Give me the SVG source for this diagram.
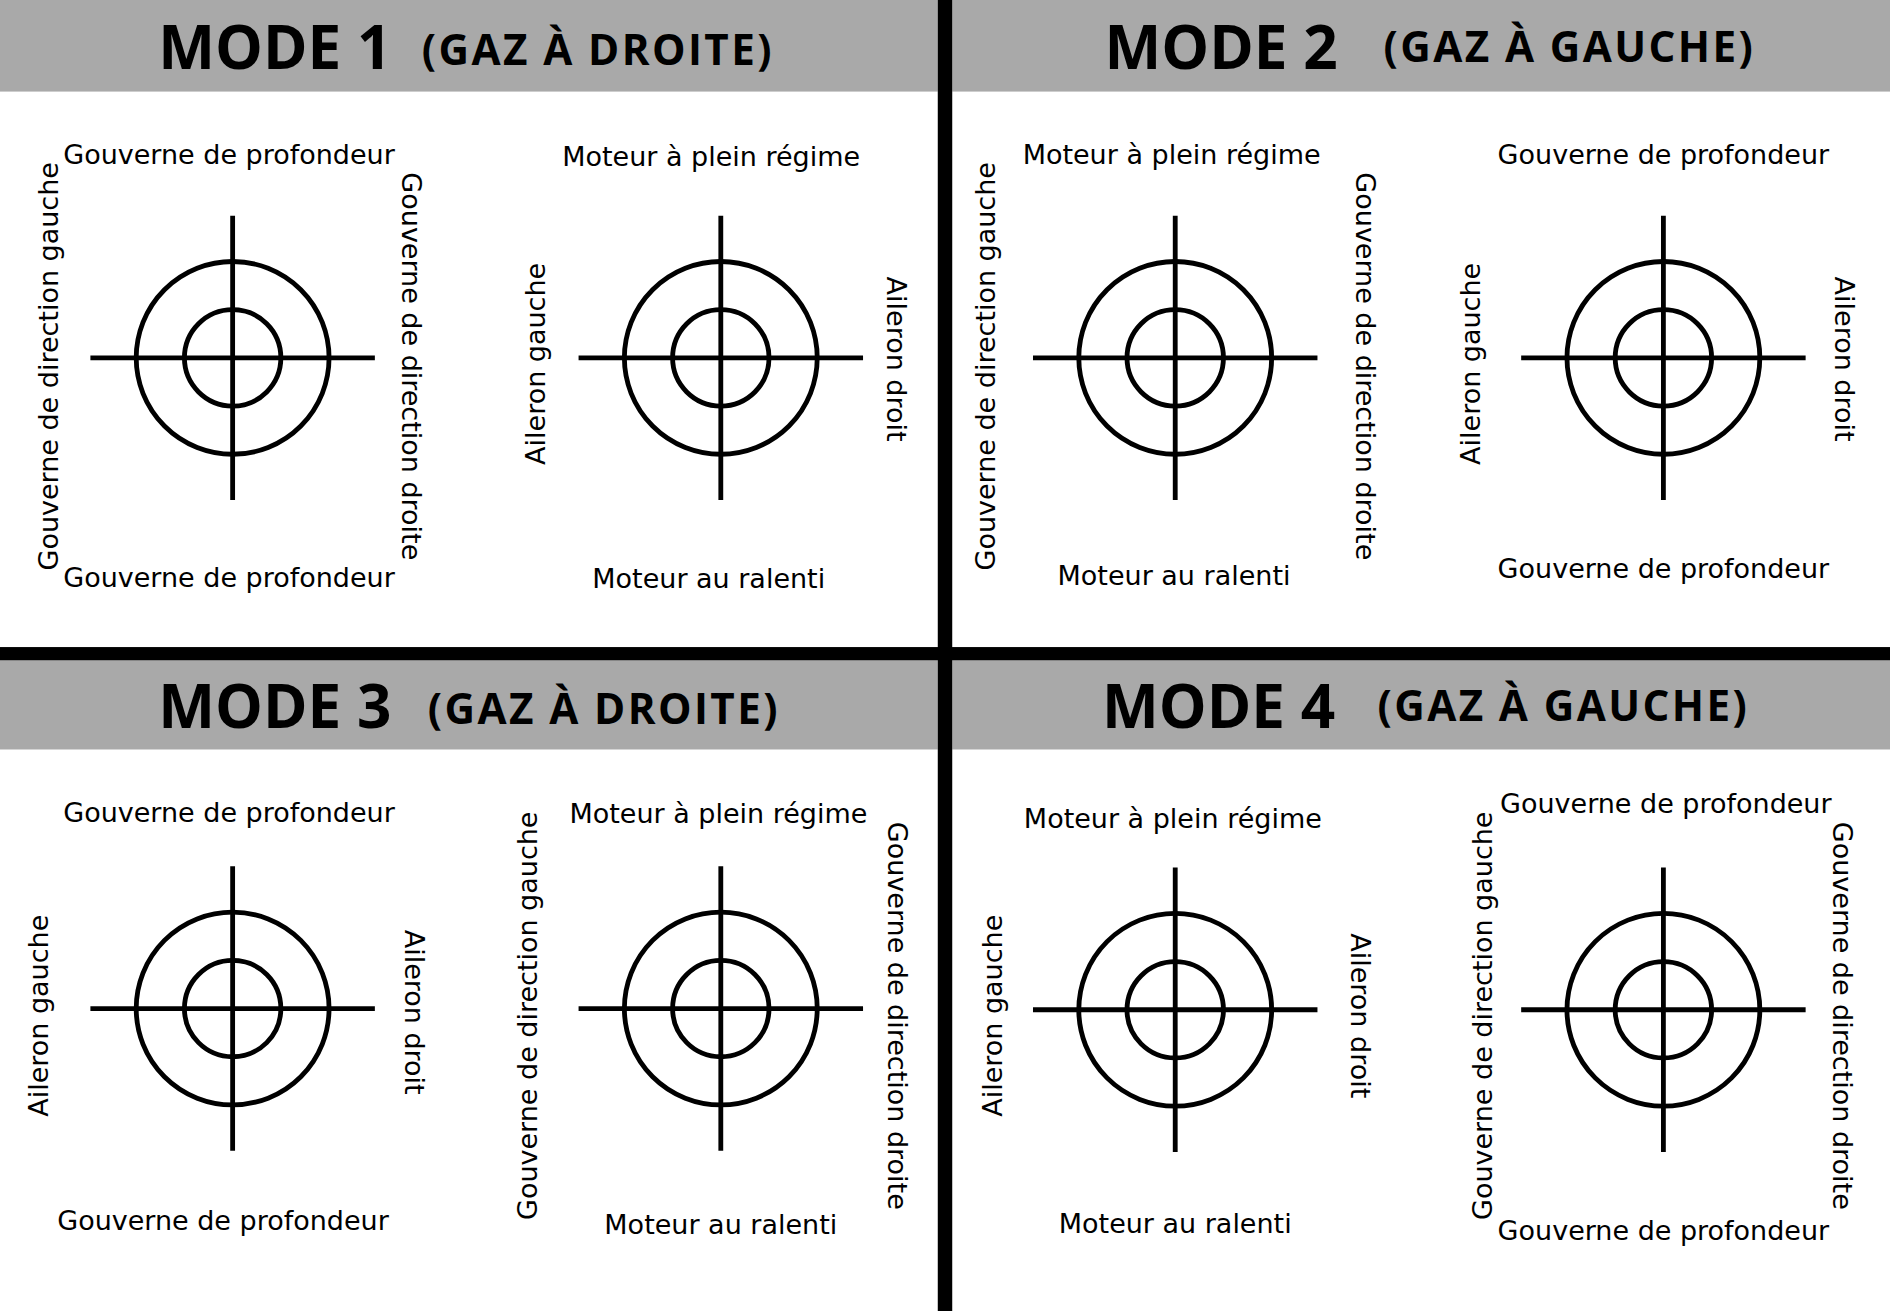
<svg xmlns="http://www.w3.org/2000/svg" width="1890" height="1311" viewBox="0 0 1890 1311">
<style>
.hdr{fill:#a9a9a9}
.t{font-family:"DejaVu Sans",sans-serif;font-size:22.4px;fill:#000;text-anchor:middle;dominant-baseline:central}
.m{font-family:"Open Sans","DejaVu Sans",sans-serif;font-weight:bold;font-size:50px;fill:#000;text-anchor:middle;dominant-baseline:central}
.g{font-family:"Open Sans","DejaVu Sans",sans-serif;font-weight:bold;font-size:35px;fill:#000;text-anchor:middle;dominant-baseline:central;letter-spacing:2px}
.x{fill:none;stroke:#000;stroke-width:4}
</style>
<defs>
<g id="cross">
<circle class="x" r="80"/><circle class="x" r="40"/>
<line class="x" x1="-118" y1="0" x2="118" y2="0"/><line class="x" x1="0" y1="-118" x2="0" y2="118"/>
</g>
</defs>
<rect width="1890" height="1311" fill="#fff"/>
<g transform="scale(1.20536,1.20496)">
<g id="layout">
<rect class="hdr" x="0" y="0" width="778" height="76"/>
<rect class="hdr" x="790" y="0" width="778" height="76"/>
<rect class="hdr" x="0" y="548" width="778" height="74"/>
<rect class="hdr" x="790" y="548" width="778" height="74"/>
<rect x="778" y="0" width="12" height="1088" fill="#000"/>
<rect x="0" y="537" width="1568" height="11" fill="#000"/>
<text class="m" x="228" y="38">MODE 1</text><text class="g" x="496" y="40">(GAZ À DROITE)</text>
<text class="m" x="1013" y="38">MODE 2</text><text class="g" x="1302" y="38">(GAZ À GAUCHE)</text>
<text class="m" x="228" y="585">MODE 3</text><text class="g" x="501" y="587">(GAZ À DROITE)</text>
<text class="m" x="1011" y="585">MODE 4</text><text class="g" x="1297" y="585">(GAZ À GAUCHE)</text>
</g>
<g id="crosshairs">
<use href="#cross" x="193" y="297"/><use href="#cross" x="598" y="297"/>
<use href="#cross" x="975" y="297"/><use href="#cross" x="1380" y="297"/>
<use href="#cross" x="193" y="837"/><use href="#cross" x="598" y="837"/>
<use href="#cross" x="975" y="838"/><use href="#cross" x="1380" y="838"/>
</g>
<g id="labels">
<text class="t" x="190" y="128">Gouverne de profondeur</text>
<text class="t" x="190" y="479">Gouverne de profondeur</text>
<text class="t" transform="translate(40,304) rotate(-90)">Gouverne de direction gauche</text>
<text class="t" transform="translate(341,304) rotate(90)">Gouverne de direction droite</text>
<text class="t" x="590" y="130">Moteur à plein régime</text>
<text class="t" x="588" y="480">Moteur au ralenti</text>
<text class="t" transform="translate(444,302) rotate(-90)">Aileron gauche</text>
<text class="t" transform="translate(744,298) rotate(90)">Aileron droit</text>

<text class="t" x="972" y="128">Moteur à plein régime</text>
<text class="t" x="974" y="478">Moteur au ralenti</text>
<text class="t" transform="translate(818,304) rotate(-90)">Gouverne de direction gauche</text>
<text class="t" transform="translate(1133,304) rotate(90)">Gouverne de direction droite</text>
<text class="t" x="1380" y="128">Gouverne de profondeur</text>
<text class="t" x="1380" y="472">Gouverne de profondeur</text>
<text class="t" transform="translate(1220,302) rotate(-90)">Aileron gauche</text>
<text class="t" transform="translate(1530,298) rotate(90)">Aileron droit</text>

<text class="t" x="190" y="674">Gouverne de profondeur</text>
<text class="t" x="185" y="1013">Gouverne de profondeur</text>
<text class="t" transform="translate(32,843) rotate(-90)">Aileron gauche</text>
<text class="t" transform="translate(344,840) rotate(90)">Aileron droit</text>
<text class="t" x="596" y="675">Moteur à plein régime</text>
<text class="t" x="598" y="1016">Moteur au ralenti</text>
<text class="t" transform="translate(438,843) rotate(-90)">Gouverne de direction gauche</text>
<text class="t" transform="translate(745,843) rotate(90)">Gouverne de direction droite</text>

<text class="t" x="973" y="679">Moteur à plein régime</text>
<text class="t" x="975" y="1015">Moteur au ralenti</text>
<text class="t" transform="translate(823,843) rotate(-90)">Aileron gauche</text>
<text class="t" transform="translate(1129,843) rotate(90)">Aileron droit</text>
<text class="t" x="1382" y="667">Gouverne de profondeur</text>
<text class="t" x="1380" y="1021">Gouverne de profondeur</text>
<text class="t" transform="translate(1230,843) rotate(-90)">Gouverne de direction gauche</text>
<text class="t" transform="translate(1529,843) rotate(90)">Gouverne de direction droite</text>
</g>
</g>
</svg>
